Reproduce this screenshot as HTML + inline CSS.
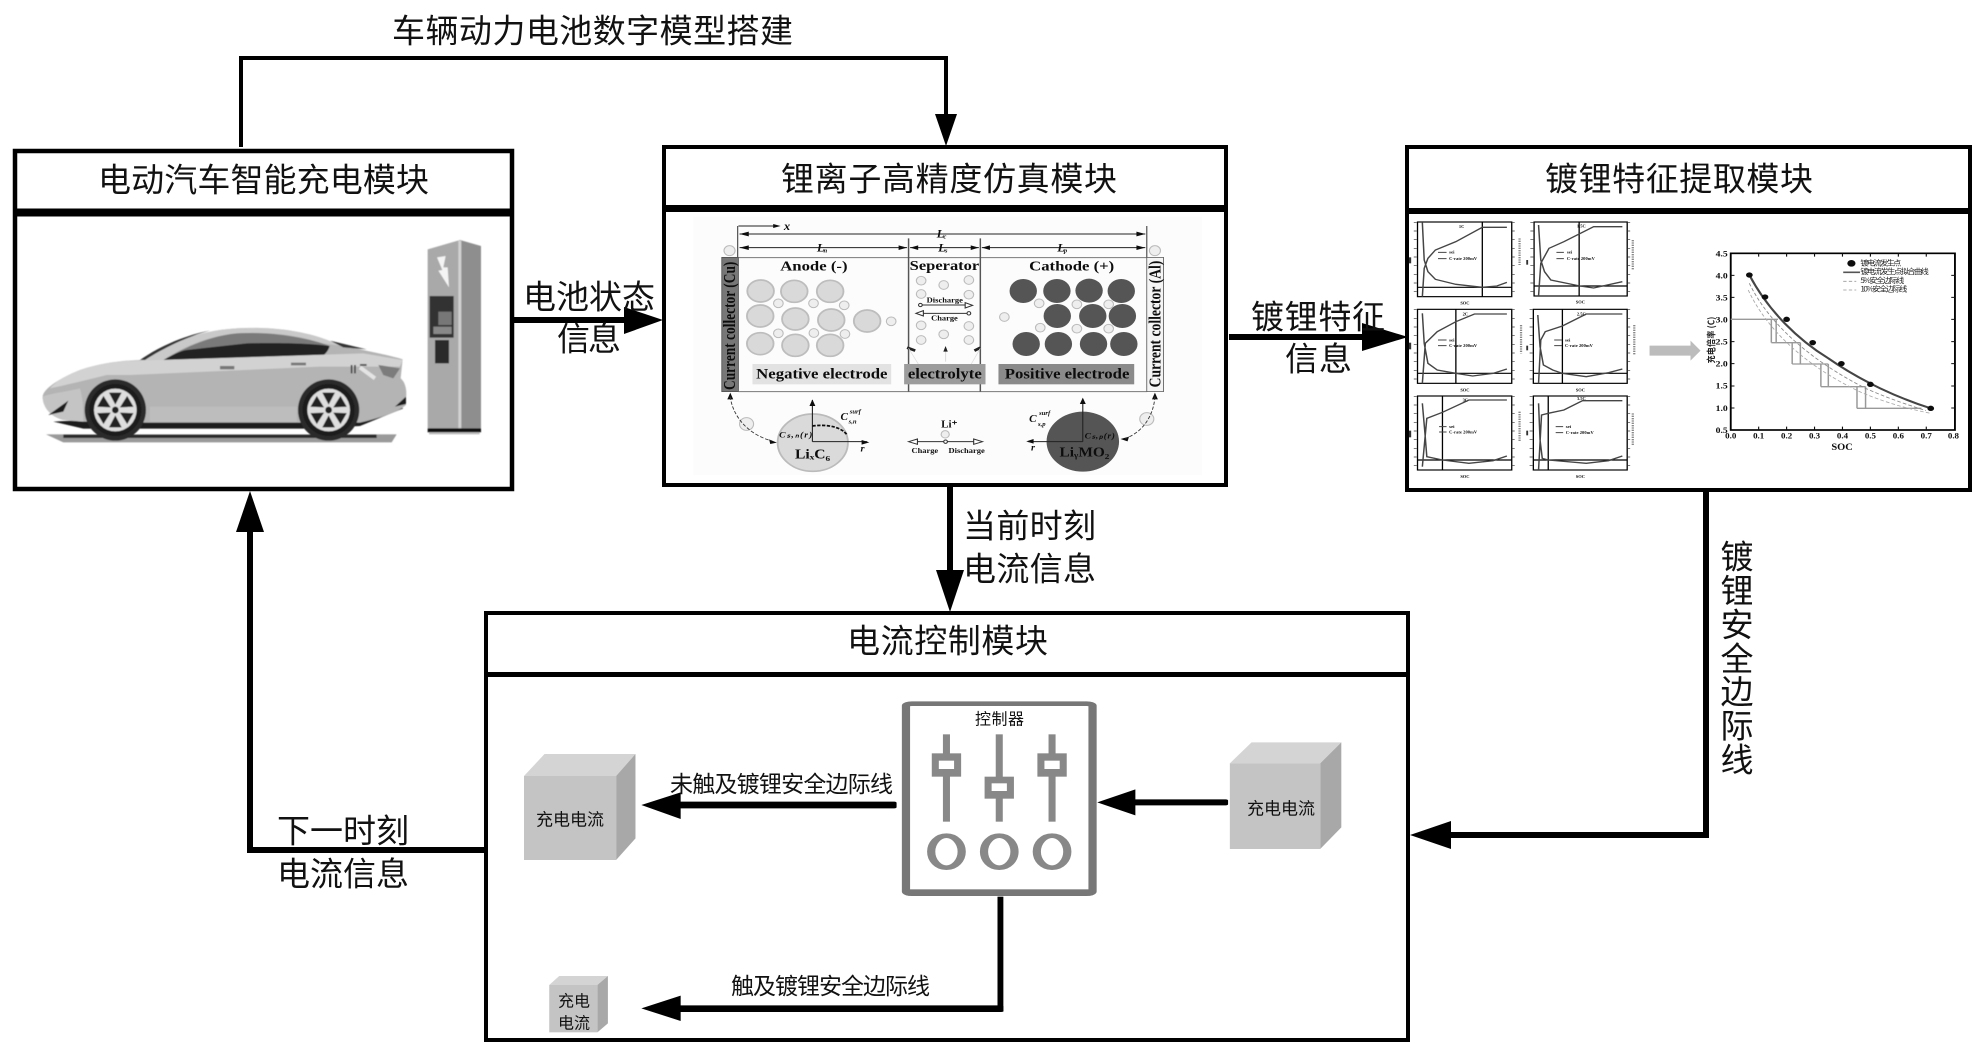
<!DOCTYPE html>
<html lang="zh"><head><meta charset="utf-8"><title>锂离子电池充电系统框图</title>
<style>
html,body{margin:0;padding:0;background:#fff;width:1984px;height:1056px;overflow:hidden}
svg{display:block}
.t{font-family:"Liberation Sans","Noto Sans CJK SC",sans-serif;fill:#111;dominant-baseline:central}
.s{font-family:"Liberation Serif","Noto Serif CJK SC",serif;font-weight:bold;fill:#111}
</style></head><body>
<svg xmlns="http://www.w3.org/2000/svg" width="1984" height="1056" viewBox="0 0 1984 1056">
<defs>
<filter id="b1" x="-5%" y="-5%" width="110%" height="110%"><feGaussianBlur stdDeviation="1.3"/></filter>
<filter id="b2" x="-5%" y="-5%" width="110%" height="110%"><feGaussianBlur stdDeviation="0.7"/></filter>
<g id="wheel">
<circle r="92" fill="#2a2a2a"/><circle r="78" fill="#1c1c1c"/><circle r="64" fill="#dedede"/>
<g fill="#222">
<polygon points="0,-16 -19,-52 19,-52"/><polygon points="0,-16 -19,-52 19,-52" transform="rotate(60)"/>
<polygon points="0,-16 -19,-52 19,-52" transform="rotate(120)"/><polygon points="0,-16 -19,-52 19,-52" transform="rotate(180)"/>
<polygon points="0,-16 -19,-52 19,-52" transform="rotate(240)"/><polygon points="0,-16 -19,-52 19,-52" transform="rotate(300)"/>
</g><circle r="10" fill="#222"/>
</g>
</defs>

<!-- Boxes -->
<g fill="none" stroke="#000">
<rect x="15" y="151" width="497" height="338" stroke-width="4.5"/>
<path d="M13 212.5H514" stroke-width="8"/>
<rect x="664" y="147" width="562" height="338" stroke-width="4"/>
<path d="M662 208.5H1228" stroke-width="7"/>
<rect x="1407" y="147" width="563" height="343" stroke-width="4"/>
<path d="M1405 211H1972" stroke-width="6"/>
<rect x="486" y="613" width="922" height="427" stroke-width="4"/>
<path d="M484 674.5H1410" stroke-width="5"/>
</g>

<!-- Connectors -->
<g fill="none" stroke="#000">
<path d="M241 147V58H946V118" stroke-width="4"/>
<path d="M514 320H630" stroke-width="6"/>
<path d="M1229 337H1370" stroke-width="6"/>
<path d="M950 486V575" stroke-width="6"/>
<path d="M1706 491V835H1445" stroke-width="6"/>
<path d="M486 850H250V525" stroke-width="6"/>
</g>
<g fill="#000">
<polygon points="946,146 935,114 957,114"/>
<polygon points="663,320 624,307 624,334"/>
<polygon points="1408,337 1362,323 1362,351"/>
<polygon points="950,612 936,570 964,570"/>
<polygon points="1410,835 1451,821 1451,849"/>
<polygon points="250,491 236,532 264,532"/>
</g>

<!-- Car & charger -->
<g transform="translate(30,310) scale(.3333)" filter="url(#b1)">
<polygon points="48,373 1100,373 1085,397 100,397" fill="#9a9a9a"/>
<rect x="100" y="374" width="940" height="10" fill="#2a2a2a"/>
<path d="M70,335 L160,356 L830,356 L990,348 L1120,295 L1090,280 L990,320 L160,330Z" fill="#1e1e1e"/>
<path d="M38,260C40,235 90,205 150,180C210,160 270,152 330,150C400,105 500,62 620,55C720,50 820,60 900,95C960,115 1060,130 1118,148L1112,205C1125,215 1132,240 1128,265L1128,285C1100,310 1040,325 990,338L350,338L160,335L100,330C60,320 38,290 38,260Z" fill="#b4b4b4"/>
<path d="M330,150C400,105 500,62 620,55C720,50 830,62 905,95L1010,118L880,100C780,68 700,66 620,70C520,78 430,125 370,170Z" fill="#c9c9c9"/>
<path d="M330,150C395,105 470,75 540,62C470,80 400,115 345,150Z" fill="#333"/>
<path d="M900,92L1010,118L940,112Z" fill="#333"/>
<path d="M370,170C430,130 520,80 620,70C720,65 820,80 900,108C895,125 880,140 860,148L600,158Z" fill="#7a7a7a"/>
<path d="M370,170C400,150 440,125 470,120L650,100C750,98 850,100 898,108C895,125 880,140 860,148L600,158Z" fill="#222"/>
<path d="M150,180C210,160 270,152 330,152L1000,130L1118,150L1110,170L870,170L300,195L230,195C170,210 110,225 60,235C80,212 110,195 150,180Z" fill="#d2d2d2"/>
<path d="M360,290H800V335H360Z" fill="#bdbdbd"/>
<path d="M38,260C60,250 110,245 150,235C160,270 160,300 160,335L100,330C60,320 38,290 38,260Z" fill="#c4c4c4"/>
<polygon points="55,315 115,272 100,305" fill="#1e1e1e"/>
<polygon points="1095,290 1128,260 1128,282" fill="#1e1e1e"/>
<polygon points="1045,165 1110,175 1090,205 1060,195" fill="#7c7c7c"/>
<path d="M965,165V190M975,165V190M990,165H1010" stroke="#444" stroke-width="5" fill="none"/>
<path d="M990,172L1035,205" stroke="#e4e4e4" stroke-width="12" fill="none"/>
<rect x="570" y="168" width="43" height="10" fill="#777"/>
<rect x="783" y="158" width="45" height="8" fill="#777"/>
<use href="#wheel" x="256" y="300"/>
<use href="#wheel" x="896" y="300"/>
</g>
<g transform="translate(415,230) scale(.3333)" filter="url(#b1)">
<polygon points="38,58 135,30 135,595 38,595" fill="#a9a9a9"/>
<polygon points="135,30 198,48 198,595 135,595" fill="#8e8e8e"/>
<rect x="130" y="32" width="9" height="563" fill="#d2d2d2"/>
<polygon points="66,82 92,78 85,112 98,112 102,172 70,122 82,120" fill="#f4f4f4"/>
<rect x="44" y="198" width="72" height="125" fill="#333"/>
<rect x="70" y="245" width="40" height="40" fill="#777"/>
<rect x="55" y="290" width="55" height="22" fill="#888"/>
<rect x="60" y="330" width="42" height="70" fill="#2a2a2a"/>
<rect x="38" y="595" width="160" height="12" fill="#111"/>
<rect x="42" y="607" width="152" height="6" fill="#bbb"/>
</g>

<!-- Battery diagram -->
<g transform="translate(660,200) scale(.36990,.33333)" filter="url(#b2)">
<rect x="90" y="50" width="1375" height="775" fill="#fcfcfc"/>
<rect x="167" y="172" width="45" height="403" fill="#777" stroke="#444" stroke-width="2"/>
<rect x="1316" y="172" width="45" height="403" fill="#f4f4f4" stroke="#444" stroke-width="2"/>
<path d="M212 173H1316M212 575H1316" stroke="#777" stroke-width="3" fill="none"/>
<path d="M672 115V575M866 115V575" stroke="#555" stroke-width="4" fill="none"/>
<path d="M210 78V172M1316 78V172" stroke="#444" stroke-width="3" fill="none"/>
<path d="M215 102H1312M215 143H668M676 143H862M870 143H1312M212 78H320" stroke="#222" stroke-width="3" fill="none"/>
<g fill="#111">
<polygon points="215,102 240,95 240,109"/><polygon points="1312,102 1288,95 1288,109"/>
<polygon points="215,143 240,136 240,150"/><polygon points="668,143 645,136 645,150"/>
<polygon points="676,143 698,136 698,150"/><polygon points="862,143 840,136 840,150"/>
<polygon points="870,143 892,136 892,150"/><polygon points="1312,143 1288,136 1288,150"/>
<polygon points="326,78 306,72 306,84"/>
</g>
<text class="s" x="335" y="90" font-size="34" font-style="italic">x</text>
<text class="s" x="748" y="112" font-size="34" font-style="italic">L</text><text class="s" x="766" y="116" font-size="18" font-style="italic">c</text>
<text class="s" x="424" y="154" font-size="34" font-style="italic">L</text><text class="s" x="442" y="158" font-size="18" font-style="italic">n</text>
<text class="s" x="752" y="154" font-size="34" font-style="italic">L</text><text class="s" x="770" y="158" font-size="18" font-style="italic">s</text>
<text class="s" x="1074" y="154" font-size="34" font-style="italic">L</text><text class="s" x="1092" y="158" font-size="18" font-style="italic">p</text>
<text class="s" x="325" y="212" font-size="42" textLength="182" lengthAdjust="spacingAndGlyphs">Anode (-)</text>
<text class="s" x="675" y="210" font-size="40" textLength="188" lengthAdjust="spacingAndGlyphs">Seperator</text>
<text class="s" x="998" y="212" font-size="42" textLength="230" lengthAdjust="spacingAndGlyphs">Cathode (+)</text>
<g fill="#d9d9d9" stroke="#bdbdbd" stroke-width="5">
<ellipse cx="272" cy="273" rx="36" ry="33"/><ellipse cx="363" cy="274" rx="36" ry="33"/><ellipse cx="460" cy="274" rx="36" ry="33"/>
<ellipse cx="271" cy="348" rx="36" ry="33"/><ellipse cx="366" cy="357" rx="36" ry="33"/><ellipse cx="463" cy="360" rx="36" ry="33"/><ellipse cx="560" cy="363" rx="36" ry="33"/>
<ellipse cx="271" cy="431" rx="36" ry="33"/><ellipse cx="366" cy="436" rx="36" ry="33"/><ellipse cx="460" cy="436" rx="36" ry="33"/>
</g>
<g fill="#555">
<ellipse cx="982" cy="273" rx="37" ry="36"/><ellipse cx="1073" cy="273" rx="37" ry="36"/><ellipse cx="1160" cy="272" rx="37" ry="36"/><ellipse cx="1247" cy="273" rx="37" ry="36"/>
<ellipse cx="1074" cy="348" rx="37" ry="36"/><ellipse cx="1170" cy="348" rx="37" ry="36"/><ellipse cx="1250" cy="348" rx="37" ry="36"/>
<ellipse cx="990" cy="432" rx="37" ry="36"/><ellipse cx="1077" cy="432" rx="37" ry="36"/><ellipse cx="1172" cy="432" rx="37" ry="36"/><ellipse cx="1254" cy="432" rx="37" ry="36"/>
</g>
<g fill="#eee" stroke="#bbb" stroke-width="3">
<circle cx="320" cy="310" r="13"/><circle cx="415" cy="310" r="13"/><circle cx="498" cy="316" r="13"/><circle cx="625" cy="364" r="13"/>
<circle cx="320" cy="400" r="13"/><circle cx="416" cy="399" r="13"/><circle cx="500" cy="402" r="13"/>
<circle cx="706" cy="242" r="13"/><circle cx="767" cy="255" r="13"/><circle cx="835" cy="240" r="13"/><circle cx="706" cy="282" r="13"/><circle cx="835" cy="284" r="13"/>
<circle cx="706" cy="376" r="13"/><circle cx="835" cy="378" r="13"/><circle cx="767" cy="403" r="13"/><circle cx="706" cy="420" r="13"/><circle cx="835" cy="420" r="13"/>
<circle cx="931" cy="351" r="13"/><circle cx="1025" cy="310" r="13"/><circle cx="1127" cy="313" r="13"/><circle cx="1213" cy="313" r="13"/>
<circle cx="1028" cy="383" r="13"/><circle cx="1127" cy="386" r="13"/><circle cx="1213" cy="386" r="13"/>
<circle cx="188" cy="152" r="15"/><circle cx="1338" cy="152" r="15"/><circle cx="234" cy="672" r="19"/><circle cx="1316" cy="657" r="19"/><circle cx="771" cy="703" r="11"/>
</g>
<path d="M705 315H830M835 340H705M675 725H860" stroke="#333" stroke-width="3" fill="none"/>
<g fill="#fff" stroke="#333" stroke-width="3">
<circle cx="704" cy="315" r="5"/><polygon points="845,316 825,308 825,324"/><circle cx="835" cy="340" r="5"/><polygon points="692,340 712,332 712,348"/>
<circle cx="772" cy="725" r="5"/><polygon points="672,725 696,717 696,733"/><polygon points="872,725 848,717 848,733"/>
</g>
<text class="s" x="721" y="307" font-size="22" textLength="98" lengthAdjust="spacingAndGlyphs">Discharge</text>
<text class="s" x="733" y="362" font-size="22" textLength="72" lengthAdjust="spacingAndGlyphs">Charge</text>
<text class="s" x="680" y="759" font-size="22" textLength="72" lengthAdjust="spacingAndGlyphs">Charge</text>
<text class="s" x="780" y="759" font-size="22" textLength="98" lengthAdjust="spacingAndGlyphs">Discharge</text>
<text class="s" x="760" y="682" font-size="30">Li⁺</text>
<path d="M668 443L690 452M866 443L850 452" stroke="#222" stroke-width="8"/>
<path d="M700 495L672 445M840 495L866 445" stroke="#ddd" stroke-width="2"/>
<path d="M772 485V445" stroke="#ddd" stroke-width="3"/><polygon points="772,438 766,455 778,455" fill="#222"/>
<rect x="250" y="492" width="375" height="61" fill="#e2e2e2"/>
<rect x="660" y="492" width="220" height="61" fill="#9c9c9c"/>
<rect x="915" y="492" width="367" height="61" fill="#8a8a8a"/>
<text class="s" x="260" y="535" font-size="44" textLength="355" lengthAdjust="spacingAndGlyphs">Negative electrode</text>
<text class="s" x="670" y="535" font-size="44" textLength="200" lengthAdjust="spacingAndGlyphs">electrolyte</text>
<text class="s" x="932" y="535" font-size="44" textLength="337" lengthAdjust="spacingAndGlyphs">Positive electrode</text>
<text class="s" transform="translate(203,570) rotate(-90) scale(.9,1.11)" font-size="40" textLength="428" lengthAdjust="spacingAndGlyphs">Current collector (Cu)</text>
<text class="s" transform="translate(1353,562) rotate(-90) scale(.9,1.11)" font-size="40" textLength="422" lengthAdjust="spacingAndGlyphs">Current collector (Al)</text>
<ellipse cx="413" cy="728" rx="95" ry="86" fill="#dadada" stroke="#bbb" stroke-width="5"/>
<ellipse cx="1143" cy="725" rx="98" ry="90" fill="#555"/>
<path d="M412 725V600M412 725H560M1143 725V600M1143 725H995" stroke="#222" stroke-width="3" fill="none"/>
<path d="M412 678C450 672 490 680 506 705" stroke="#111" stroke-width="5" stroke-dasharray="9 4" fill="none"/>
<g fill="#111"><polygon points="412,598 404,618 420,618"/><polygon points="566,727 545,720 545,734"/><polygon points="990,724 1010,717 1010,731"/><polygon points="1143,593 1135,612 1151,612"/>
<polygon points="190,578 182,598 198,598"/><polygon points="1338,578 1330,598 1346,598"/><polygon points="316,728 295,718 298,732"/><polygon points="1245,717 1268,710 1264,724"/></g>
<path d="M190 590C195 640 230 700 300 722M1338 590C1335 640 1310 695 1258 715" stroke="#333" stroke-width="2.5" stroke-dasharray="10 5" fill="none"/>
<text class="s" x="365" y="775" font-size="40" textLength="95" lengthAdjust="spacingAndGlyphs">LiₓC₆</text>
<text class="s" x="1080" y="770" font-size="40" textLength="135" lengthAdjust="spacingAndGlyphs" fill="#222">LiᵧMO₂</text>
<text class="s" x="322" y="713" font-size="26" font-style="italic" textLength="90">Cₛ,ₙ(r)</text>
<text class="s" x="1148" y="716" font-size="26" font-style="italic" textLength="82" fill="#222">Cₛ,ₚ(r)</text>
<text class="s" x="488" y="660" font-size="30" font-style="italic">C</text><text class="s" x="513" y="640" font-size="18" font-style="italic">surf</text><text class="s" x="510" y="670" font-size="18" font-style="italic">s,n</text>
<text class="s" x="998" y="666" font-size="30" font-style="italic">C</text><text class="s" x="1025" y="645" font-size="18" font-style="italic">surf</text><text class="s" x="1022" y="678" font-size="18" font-style="italic">s,p</text>
<text class="s" x="542" y="755" font-size="28" font-style="italic">r</text><text class="s" x="1003" y="752" font-size="28" font-style="italic">r</text>
</g>

<!-- Plots -->
<g transform="translate(1400,200) scale(.37245,.33333)" filter="url(#b2)">
<g fill="none" stroke="#000" stroke-width="3.5">
<rect x="47" y="66" width="253" height="224"/><rect x="360" y="66" width="250" height="222"/>
<rect x="47" y="328" width="253" height="222"/><rect x="358" y="328" width="252" height="222"/>
<rect x="47" y="588" width="253" height="222"/><rect x="358" y="588" width="252" height="222"/>
<path d="M221 66V290M47 262H300M481 66V288M360 258H610M150 328V550M47 520H300M436 328V550M358 520H610M114 588V810M47 780H300M398 588V810M358 780H610"/>
</g>
<!-- ticks -->
<g fill="none" stroke="#333" stroke-width="8" stroke-dasharray="2 24">
<path d="M41 66V290M354 66V288M41 328V550M352 328V550M41 588V810M352 588V810M304 66V290M614 66V288M304 328V550M614 328V550M304 588V810M614 588V810"/>
</g>
<g fill="none" stroke="#444" stroke-width="4">
<path d="M60,68L65,180L75,215L95,238L150,253L221,262L260,258L287,247M60,290L65,205L75,175L95,150L150,125L221,82H287"/>
<path d="M372,75L378,180L388,215L405,240L470,255L483,258L520,264L597,245M372,288L378,190L400,145L440,125L520,80H597"/>
<path d="M60,340L65,430L75,490L100,510L150,520L195,528L250,520L287,507M60,550L68,430L100,395L150,365L200,342H287"/>
<path d="M370,345L376,440L385,495L410,510L436,520L500,530L560,518L597,507M372,550L378,420L390,395L436,378L500,342H597"/>
<path d="M60,610L67,700L72,770L114,780L185,790L250,782L287,768M60,800L72,655L114,637L185,600H287"/>
<path d="M372,610L376,720L382,775L398,780L500,790L560,782L597,768M372,810L380,645L398,640L440,630L490,602H597"/>
</g>
<g stroke="#444" stroke-width="3" fill="none">
<path d="M102 157H125M102 176H125M420 157H440M420 176H440M102 420H125M102 437H125M414 420H435M414 437H435M105 680H125M105 696H125M418 680H438M418 698H438"/>
</g>
<g class="s" font-size="12" font-family="Liberation Sans" fill="#333">
<text x="132" y="161" font-size="13">sei</text><text x="132" y="180" font-size="12" textLength="75">C-rate 200mV</text>
<text x="448" y="161" font-size="13">sei</text><text x="448" y="180" font-size="12" textLength="75">C-rate 200mV</text>
<text x="132" y="424" font-size="13">sei</text><text x="132" y="441" font-size="12" textLength="75">C-rate 200mV</text>
<text x="443" y="424" font-size="13">sei</text><text x="443" y="441" font-size="12" textLength="75">C-rate 200mV</text>
<text x="132" y="684" font-size="13">sei</text><text x="132" y="700" font-size="12" textLength="75">C-rate 200mV</text>
<text x="445" y="684" font-size="13">sei</text><text x="445" y="702" font-size="12" textLength="75">C-rate 200mV</text>
<text x="158" y="84">1C</text><text x="475" y="82">1.5C</text><text x="168" y="346">2C</text><text x="475" y="346">2.5C</text><text x="168" y="605">3C</text><text x="475" y="600">3.5C</text>
<text x="162" y="314">SOC</text><text x="472" y="310">SOC</text><text x="162" y="574">SOC</text><text x="472" y="574">SOC</text><text x="162" y="834">SOC</text><text x="472" y="834">SOC</text>
</g>
<g fill="#333"><rect x="24" y="172" width="6" height="18"/><rect x="24" y="428" width="6" height="20"/><rect x="24" y="692" width="6" height="20"/><rect x="339" y="180" width="5" height="14"/><rect x="339" y="437" width="5" height="14"/><rect x="339" y="692" width="5" height="14"/></g>
<g fill="none" stroke="#888" stroke-width="6" stroke-dasharray="4 3"><path d="M321 115V195M625 120V210M325 375V460M629 375V465M321 635V725M625 640V735"/></g>
<polygon points="670,437 780,437 780,422 807,452 780,482 780,467 670,467" fill="#bcbcbc"/>
<rect x="888" y="160" width="602" height="530" fill="none" stroke="#000" stroke-width="5"/>
<path d="M963 160v10M1038 160v10M1113 160v10M1188 160v10M1263 160v10M1338 160v10M1413 160v10M963 690v-10M1038 690v-10M1113 690v-10M1188 690v-10M1263 690v-10M1338 690v-10M1413 690v-10M888 226h10M888 292h10M888 358h10M888 425h10M888 491h10M888 558h10M888 624h10M1490 226h-10M1490 292h-10M1490 358h-10M1490 425h-10M1490 491h-10M1490 558h-10M1490 624h-10" stroke="#111" stroke-width="3"/>
<g class="s" font-size="26" font-weight="normal" text-anchor="end" fill="#222">
<text x="880" y="169">4.5</text><text x="880" y="235">4.0</text><text x="880" y="301">3.5</text><text x="880" y="367">3.0</text><text x="880" y="434">2.5</text><text x="880" y="500">2.0</text><text x="880" y="566">1.5</text><text x="880" y="633">1.0</text><text x="880" y="699">0.5</text>
</g>
<g class="s" font-size="24" font-weight="normal" text-anchor="middle" fill="#222">
<text x="888" y="716">0.0</text><text x="963" y="716">0.1</text><text x="1038" y="716">0.2</text><text x="1113" y="716">0.3</text><text x="1188" y="716">0.4</text><text x="1263" y="716">0.5</text><text x="1338" y="716">0.6</text><text x="1413" y="716">0.7</text><text x="1486" y="716">0.8</text>
<text x="1187" y="750" font-size="28">SOC</text>
</g>
<text transform="translate(845,490) rotate(-90)" font-family="Noto Sans CJK SC" font-weight="bold" font-size="24" textLength="140" fill="#222">充电倍率 (C)</text>
<path d="M888 358H1015M997 358V428M1010 358V428M997 428H1075M1053 428V492M1075 428V492M1053 492H1150M1130 492V560M1150 492V560M1130 560H1250M1227 560V625M1250 560V625M1227 625H1400" stroke="#999" stroke-width="4" fill="none"/>
<path d="M938 250C990 370 1100 480 1250 565C1320 600 1380 620 1412 632" stroke="#888" stroke-width="2.5" stroke-dasharray="10 6" fill="none"/>
<path d="M935 270C985 390 1090 500 1240 578C1320 615 1380 630 1425 640" stroke="#aaa" stroke-width="2.5" stroke-dasharray="10 6" fill="none"/>
<path d="M938 225C990 335 1070 420 1150 475C1240 545 1340 595 1425 625" stroke="#444" stroke-width="6" fill="none"/>
<g fill="#111">
<ellipse cx="938" cy="225" rx="9" ry="8"/><ellipse cx="980" cy="291" rx="9" ry="8"/><ellipse cx="1038" cy="358" rx="9" ry="8"/><ellipse cx="1108" cy="428" rx="9" ry="8"/><ellipse cx="1185" cy="491" rx="9" ry="8"/><ellipse cx="1263" cy="553" rx="9" ry="8"/><ellipse cx="1425" cy="625" rx="9" ry="8"/><ellipse cx="1212" cy="190" rx="11" ry="10"/>
</g>
<path d="M1190 217H1235" stroke="#555" stroke-width="5"/>
<path d="M1190 244H1225M1190 270H1225" stroke="#999" stroke-width="2.5" stroke-dasharray="9 6"/>
<g font-family="Noto Sans CJK SC" font-size="22" fill="#222">
<text x="1236" y="197" textLength="110">镀电流发生点</text>
<text x="1236" y="222" textLength="184">镀电流发生点拟合曲线</text>
<text x="1236" y="249" textLength="118">5%安全边际线</text>
<text x="1236" y="275" textLength="126">10%安全边际线</text>
</g>
</g>

<!-- Control module internals -->
<g transform="translate(480,690) scale(.58673,.33333)">
<polygon points="75,258 110,192 265,192 232,258" fill="#d4d4d4"/>
<polygon points="232,258 265,192 265,445 232,510" fill="#a8a8a8"/>
<rect x="75" y="258" width="157" height="252" fill="#c4c4c4"/>
<polygon points="1278,220 1315,157 1468,157 1432,220" fill="#d4d4d4"/>
<polygon points="1432,220 1468,157 1468,412 1432,477" fill="#a8a8a8"/>
<rect x="1278" y="220" width="154" height="257" fill="#c4c4c4"/>
<polygon points="118,885 135,858 218,858 200,885" fill="#d4d4d4"/>
<polygon points="200,885 218,858 218,1000 200,1027" fill="#a8a8a8"/>
<rect x="118" y="885" width="82" height="142" fill="#c4c4c4"/>
<rect x="726" y="41" width="318" height="570" rx="10" ry="6" fill="#fff" stroke="#777" stroke-width="14"/>
<rect x="726" y="598" width="318" height="18" fill="#777"/>
<g fill="#888">
<rect x="789" y="133" width="12" height="262"/><rect x="879" y="133" width="12" height="262"/><rect x="969" y="133" width="12" height="262"/>
<rect x="770" y="190" width="50" height="70"/><rect x="860" y="260" width="50" height="66"/><rect x="950" y="190" width="50" height="70"/>
</g>
<g fill="#fff"><rect x="782" y="212" width="26" height="25"/><rect x="872" y="280" width="26" height="23"/><rect x="962" y="212" width="26" height="25"/></g>
<g fill="none" stroke="#888" stroke-width="14">
<ellipse cx="795" cy="485" rx="26" ry="48"/><ellipse cx="885" cy="485" rx="26" ry="48"/><ellipse cx="975" cy="485" rx="26" ry="48"/>
</g>
<rect x="335" y="335" width="375" height="20" rx="4"/>
<rect x="1110" y="328" width="165" height="18" rx="4"/>
<rect x="882" y="620" width="10" height="345"/>
<rect x="335" y="946" width="557" height="20" rx="4"/>
<polygon points="275,345 342,307 342,387"/>
<polygon points="1052,337 1117,298 1117,376"/>
<polygon points="275,955 342,917 342,993"/>
</g>

<!-- Text -->
<g>
<text class="t" x="392" y="31" font-size="33" textLength="401">车辆动力电池数字模型搭建</text>
<text class="t" x="98" y="180" font-size="33" textLength="331">电动汽车智能充电模块</text>
<text class="t" x="781" y="179" font-size="33" textLength="336">锂离子高精度仿真模块</text>
<text class="t" x="1545" y="179" font-size="33" textLength="268">镀锂特征提取模块</text>
<text class="t" x="847" y="641" font-size="33" textLength="201">电流控制模块</text>
<text class="t" x="523" y="297" font-size="33" textLength="132">电池状态</text>
<text class="t" x="557" y="339" font-size="33" textLength="64">信息</text>
<text class="t" x="1251" y="317" font-size="33" textLength="134">镀锂特征</text>
<text class="t" x="1285" y="359" font-size="33" textLength="67">信息</text>
<text class="t" x="963" y="526" font-size="33" textLength="133">当前时刻</text>
<text class="t" x="963" y="569" font-size="33" textLength="133">电流信息</text>
<text class="t" x="277" y="831" font-size="33" textLength="132">下一时刻</text>
<text class="t" x="277" y="874" font-size="33" textLength="132">电流信息</text>
</g>
<g>
<text class="t" x="1737" y="557" font-size="33" text-anchor="middle">镀</text>
<text class="t" x="1737" y="591" font-size="33" text-anchor="middle">锂</text>
<text class="t" x="1737" y="625" font-size="33" text-anchor="middle">安</text>
<text class="t" x="1737" y="659" font-size="33" text-anchor="middle">全</text>
<text class="t" x="1737" y="692" font-size="33" text-anchor="middle">边</text>
<text class="t" x="1737" y="726" font-size="33" text-anchor="middle">际</text>
<text class="t" x="1737" y="760" font-size="33" text-anchor="middle">线</text>
</g>
<text class="t" x="670" y="784" font-size="23" textLength="223">未触及镀锂安全边际线</text>
<text class="t" x="731" y="986" font-size="23" textLength="199">触及镀锂安全边际线</text>
<text class="t" x="975" y="720" font-size="16" textLength="49">控制器</text>
<text class="t" x="536" y="820" font-size="17" textLength="68">充电电流</text>
<text class="t" x="1247" y="809" font-size="17" textLength="68">充电电流</text>
<text class="t" x="558" y="1002" font-size="16" textLength="32">充电</text>
<text class="t" x="558" y="1024" font-size="16" textLength="32">电流</text>
</svg>
</body></html>
